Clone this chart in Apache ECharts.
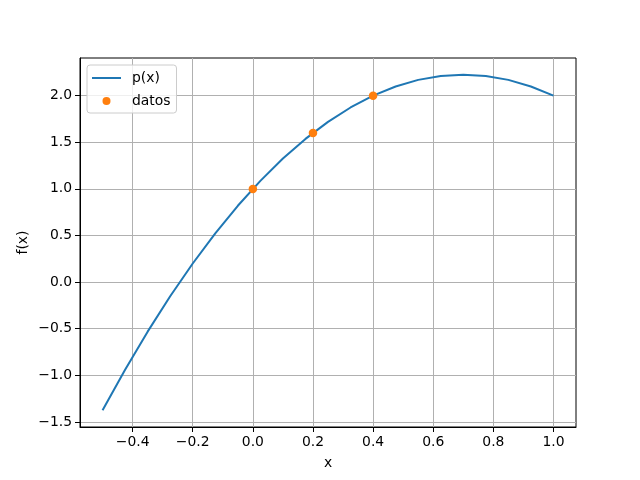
<!DOCTYPE html>
<html>
<head>
<meta charset="utf-8">
<script src="https://cdn.jsdelivr.net/npm/echarts@6/dist/echarts.min.js"></script>
<style>html,body{margin:0;padding:0;background:#fff}#c{width:640px;height:480px}</style>
</head>
<body>
<div id="c"></div>
<script>
// Polynomial curve samples
const curveX = [-0.5, -0.425, -0.35, -0.275, -0.2, -0.125, -0.05, 0.025, 0.1, 0.175, 0.25, 0.325, 0.4, 0.475, 0.55, 0.625, 0.7, 0.775, 0.85, 0.925, 1.0];
const curveY = [-1.375, -0.939, -0.531, -0.152, 0.2, 0.523, 0.819, 1.086, 1.325, 1.536, 1.719, 1.873, 2.0, 2.098, 2.169, 2.211, 2.225, 2.211, 2.169, 2.098, 2.0];
// Data points
const datosX = [0.0, 0.2, 0.4];
const datosY = [1.0, 1.6, 2.0];
// Tick values
const xTicks = [-0.4, -0.2, 0.0, 0.2, 0.4, 0.6, 0.8, 1.0];
const yTicks = [-1.5, -1.0, -0.5, 0.0, 0.5, 1.0, 1.5, 2.0];

const fmt = v => (v < 0 ? '\u2212' : '') + Math.abs(v).toFixed(1);
const font = 'DejaVu Sans';

const chart = echarts.init(document.getElementById('c'), null, {renderer: 'canvas'});
chart.setOption({
  animation: false,
  backgroundColor: '#ffffff',
  textStyle: {fontFamily: font},
  grid: {left: 80, right: 64, top: 58, bottom: 53, show: true, borderColor: '#000', borderWidth: 1, containLabel: false},
  xAxis: {
    type: 'value', min: -0.575, max: 1.075,
    name: 'x', nameLocation: 'middle', nameGap: 29,
    nameTextStyle: {fontFamily: font, fontSize: 13.9, color: '#000'},
    axisLine: {show: true, onZero: false, lineStyle: {color: '#000', width: 1}},
    axisTick: {show: true, customValues: xTicks, length: 5, lineStyle: {color: '#000', width: 1}},
    axisLabel: {customValues: xTicks, formatter: fmt, fontFamily: font, fontSize: 13.9, color: '#000', margin: 8},
    splitLine: {show: true, lineStyle: {color: '#b0b0b0', width: 1}}
  },
  yAxis: {
    type: 'value', min: -1.5537, max: 2.4037,
    name: 'f(x)', nameLocation: 'middle', nameGap: 50, nameRotate: 90, nameMoveOverlap: false,
    nameTextStyle: {fontFamily: font, fontSize: 13.9, color: '#000'},
    axisLine: {show: true, onZero: false, lineStyle: {color: '#000', width: 1}},
    axisTick: {show: true, customValues: yTicks, length: 5, lineStyle: {color: '#000', width: 1}},
    axisLabel: {customValues: yTicks, formatter: fmt, fontFamily: font, fontSize: 13.9, color: '#000', margin: 8},
    splitLine: {show: true, lineStyle: {color: '#b0b0b0', width: 1}}
  },
  legend: {
    orient: 'vertical', left: 87, top: 65,
    padding: [6, 6, 5, 5],
    itemWidth: 29, itemHeight: 8, itemGap: 9,
    backgroundColor: 'rgba(255,255,255,0.8)',
    borderColor: '#cccccc', borderWidth: 1, borderRadius: 3,
    textStyle: {fontFamily: font, fontSize: 13.9, color: '#000', padding: [0, 0, 0, 6]},
    data: [
      {name: 'p(x)', icon: 'path://M0,0 H29 V2 H0 Z'},
      {name: 'datos', icon: 'circle'}
    ]
  },
  series: [
    {
      name: 'p(x)', type: 'line', symbol: 'none', z: 2,
      lineStyle: {color: '#1f77b4', width: 2},
      itemStyle: {color: '#1f77b4'},
      data: curveX.map((x, i) => [x, curveY[i]])
    },
    {
      name: 'datos', type: 'scatter', symbol: 'circle', symbolSize: 8.5, z: 3,
      itemStyle: {color: '#ff7f0e', opacity: 1},
      data: datosX.map((x, i) => [x, datosY[i]])
    }
  ]
});
</script>
</body>
</html>
